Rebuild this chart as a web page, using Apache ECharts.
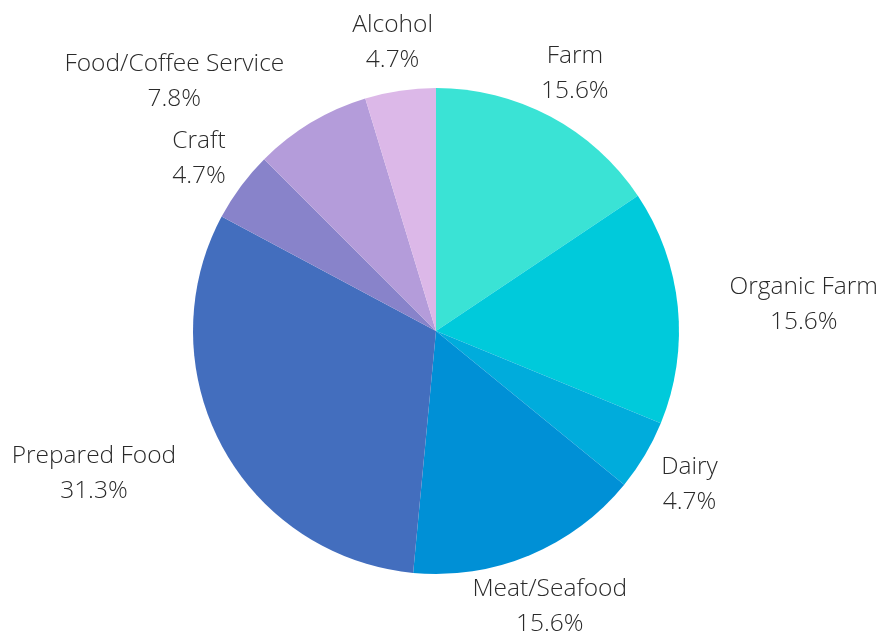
<!DOCTYPE html>
<html>
<head>
<meta charset="utf-8">
<script src="https://cdn.jsdelivr.net/npm/echarts@6/dist/echarts.min.js"></script>
<style>
  html, body { margin: 0; padding: 0; background: #ffffff; }
  #chart { width: 882px; height: 631px; }
</style>
</head>
<body>
<div id="chart"></div>
<script>
// ---- data ----
const categories = ['Farm', 'Organic Farm', 'Dairy', 'Meat/Seafood', 'Prepared Food', 'Craft', 'Food/Coffee Service', 'Alcohol'];
const shares = [15.6, 15.6, 4.7, 15.6, 31.3, 4.7, 7.8, 4.7];

// ---- style / layout ----
const colors = ['#3ae3d5', '#00cadb', '#00acdc', '#0090d6', '#436ebe', '#8883ca', '#b49cda', '#dcb8e8'];
const labelSide = ['center', 'left', 'center', 'center', 'right', 'center', 'right', 'center'];
const CX = 436, CY = 331, R = 243, LABEL_R = 295, LABEL_DY = 3;

const total = shares.reduce((a, b) => a + b, 0);
const midAngles = [];
let acc = 0;
shares.forEach(v => { midAngles.push((acc + v / 2) / total * 2 * Math.PI); acc += v; });

const chart = echarts.init(document.getElementById('chart'));
chart.setOption({
  animation: false,
  color: colors,
  series: [{
    type: 'pie',
    center: [CX, CY],
    radius: R,
    startAngle: 90,
    clockwise: true,
    avoidLabelOverlap: false,
    data: categories.map((c, i) => ({ name: c, value: shares[i] })),
    label: {
      show: true,
      position: 'outside',
      formatter: p => p.name + '\n' + p.value.toFixed(1) + '%',
      fontFamily: 'Open Sans',
      fontWeight: 300,
      fontSize: 24.5,
      lineHeight: 35,
      color: '#2a2a2a',
      align: 'center'
    },
    labelLine: { show: false },
    labelLayout: function (params) {
      const i = params.dataIndex;
      const a = midAngles[i];
      let x = CX + LABEL_R * Math.sin(a);
      const y = CY - LABEL_R * Math.cos(a) + LABEL_DY;
      const w = params.labelRect.width;
      if (labelSide[i] === 'left') x += w / 2;
      if (labelSide[i] === 'right') x -= w / 2;
      return { x: x, y: y, align: 'center', verticalAlign: 'middle' };
    },
    emphasis: { disabled: true }
  }]
});
</script>
</body>
</html>
